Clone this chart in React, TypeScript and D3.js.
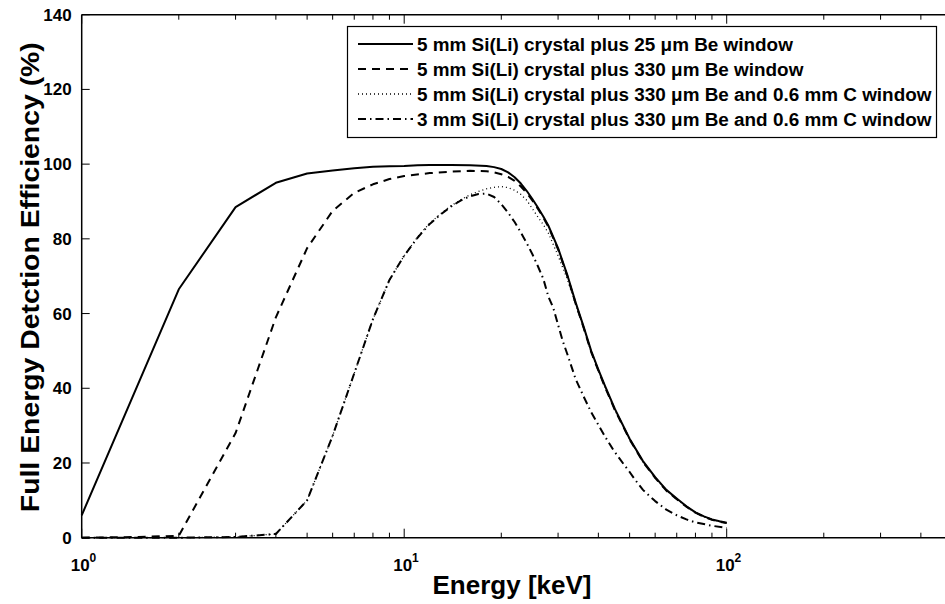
import React, { useEffect, useRef } from "react";
import * as d3 from "d3";

// energy in keV vs efficiency in %
const solidX = [1, 2, 3, 4, 5, 6, 7, 8, 9, 10, 11, 12, 14, 16, 18, 19, 20, 21, 22, 23, 24, 25, 26, 27, 28, 30, 32, 34, 36, 38, 40, 42, 45, 50, 55, 60, 65, 70, 75, 80, 85, 90, 95, 100];
const solidY = [6, 66.5, 88.5, 95, 97.5, 98.3, 98.9, 99.3, 99.4, 99.5, 99.7, 99.8, 99.8, 99.7, 99.5, 99.2, 98.7, 97.8, 96.5, 94.8, 92.8, 90.6, 88.3, 86, 83.5, 77.5, 70.5, 63, 56.5, 50, 45, 40.5, 34.5, 26.5, 20.5, 16.2, 12.8, 10.5, 8.4, 6.8, 5.7, 4.9, 4.4, 4];

const dashX = [1, 1.5, 2, 3, 4, 5, 6, 7, 8, 9, 10, 12, 14, 16, 18, 19, 20, 21, 22, 23, 24, 25, 26, 27, 28, 30, 32, 34, 36, 38, 40, 42, 45, 50, 55, 60, 65, 70, 75, 80, 85, 90, 95, 100];
const dashY = [0, 0.2, 0.5, 28, 59, 77.5, 87.5, 92.3, 94.6, 96, 96.8, 97.6, 98, 98.2, 98.1, 97.8, 97.3, 96.6, 95.5, 94, 92.3, 90.2, 88, 85.7, 83.2, 77.2, 70.2, 62.7, 56.2, 49.7, 44.7, 40.2, 34.2, 26.3, 20.3, 16, 12.6, 10.3, 8.3, 6.7, 5.6, 4.8, 4.3, 3.9];

const dotX = [1, 2, 3, 4, 5, 6, 7, 8, 9, 10, 11, 12, 13, 14, 15, 16, 17, 18, 19, 20, 21, 22, 23, 24, 25, 26, 27, 28, 30, 32, 34, 36, 38, 40, 42, 45, 50, 55, 60, 65, 70, 75, 80, 85, 90, 95, 100];
const dotY = [0, 0, 0.2, 1, 10, 27.3, 44, 58.5, 69, 75.5, 80.5, 84.2, 86.8, 88.9, 90.5, 91.8, 92.7, 93.4, 93.8, 94, 93.7, 93, 91.9, 90.3, 88, 85.8, 83.8, 81.5, 75.5, 69.3, 62.5, 56.2, 49.7, 44.7, 40.2, 34.2, 26.3, 20.3, 16, 12.6, 10.3, 8.3, 6.7, 5.6, 4.8, 4.3, 3.9];

const dashDotX = [1, 2, 3, 4, 5, 6, 7, 8, 9, 10, 11, 12, 13, 14, 15, 16, 17, 18, 19, 20, 21, 22, 23, 24, 25, 26, 27, 28, 29, 30, 31, 32, 34, 36, 38, 40, 42, 44.5, 48, 50, 52, 55, 60, 65, 70, 75, 80, 90, 100];
const dashDotY = [0, 0, 0.2, 1, 10, 27.3, 44, 58.5, 69, 75.5, 80.3, 84, 86.6, 88.7, 90.3, 91.4, 92, 92.1, 91.2, 89.3, 87, 84.5, 81.7, 78.8, 75.8, 72.6, 69.3, 64.5, 61.5, 57, 52.7, 49.3, 42.5, 37.8, 33.6, 30.2, 27, 23.5, 19.6, 17.6, 15.5, 12.8, 9.8, 7.5, 6, 4.9, 4.1, 3.2, 2.6];

const seriesNames = [
  "5 mm Si(Li) crystal plus 25 μm Be window",
  "5 mm Si(Li) crystal plus 330 μm Be window",
  "5 mm Si(Li) crystal plus 330 μm Be and 0.6 mm C window",
  "3 mm Si(Li) crystal plus 330 μm Be and 0.6 mm C window",
];
const dashes = ["none", "8,6", "1,3", "8,4,1.5,4"];
const widths = [2, 2, 1.3, 2];

const yTicks = [0, 20, 40, 60, 80, 100, 120, 140];
const xMajor = [1, 10, 100];

export default function App() {
  const svgRef = useRef<SVGSVGElement>(null);
  const width = 945;
  const height = 604;

  useEffect(() => {
    const svg = d3.select(svgRef.current);
    svg.selectAll("*").remove();

    const left = 81.7;
    const decade = 322.5;
    const x = d3.scaleLog().domain([1, 500]).range([left, left + decade * Math.log10(500)]);
    const y = d3.scaleLinear().domain([0, 140]).range([537.7, 14.7]);
    const font = "Liberation Sans, Arial, sans-serif";

    const series = [
      solidX.map((v, i) => [v, solidY[i]]),
      dashX.map((v, i) => [v, dashY[i]]),
      dotX.map((v, i) => [v, dotY[i]]),
      dashDotX.map((v, i) => [v, dashDotY[i]]),
    ];

    const line = d3
      .line<number[]>()
      .x(d => x(d[0]))
      .y(d => y(d[1]));

    // dotted drawn last so its dots show on top
    const order = [0, 1, 3, 2];
    order.forEach(i => {
      svg.append("path")
        .attr("d", line(series[i] as number[][]))
        .attr("fill", "none")
        .attr("stroke", "black")
        .attr("stroke-width", widths[i])
        .attr("stroke-linejoin", "round")
        .attr("stroke-dasharray", dashes[i]);
    });

    // axes box
    const x0 = x.range()[0];
    const x1 = x.range()[1];
    svg.append("line").attr("x1", x0).attr("x2", x1).attr("y1", y(0)).attr("y2", y(0))
      .attr("stroke", "black").attr("stroke-width", 1.5);
    svg.append("line").attr("x1", x0).attr("x2", x1).attr("y1", y(140)).attr("y2", y(140))
      .attr("stroke", "black").attr("stroke-width", 1.5);
    svg.append("line").attr("x1", x0).attr("x2", x0).attr("y1", y(0)).attr("y2", y(140))
      .attr("stroke", "black").attr("stroke-width", 1.5);

    // y ticks
    yTicks.forEach(t => {
      svg.append("line").attr("x1", x0).attr("x2", x0 + 8).attr("y1", y(t)).attr("y2", y(t))
        .attr("stroke", "black").attr("stroke-width", 1);
      svg.append("text")
        .attr("x", x0 - 10)
        .attr("y", y(t) + 6)
        .attr("text-anchor", "end")
        .attr("font-family", font)
        .attr("font-weight", "bold")
        .attr("font-size", 17)
        .text(t);
    });

    // x ticks, bottom and top
    x.ticks().filter(t => t <= 500).forEach(t => {
      const len = xMajor.includes(t) ? 9 : 5;
      svg.append("line").attr("x1", x(t)).attr("x2", x(t)).attr("y1", y(0)).attr("y2", y(0) - len)
        .attr("stroke", "black").attr("stroke-width", 1);
      svg.append("line").attr("x1", x(t)).attr("x2", x(t)).attr("y1", y(140)).attr("y2", y(140) + len)
        .attr("stroke", "black").attr("stroke-width", 1);
    });

    xMajor.forEach((t, i) => {
      const txt = svg.append("text")
        .attr("x", x(t) - 11)
        .attr("y", 571)
        .attr("font-family", font)
        .attr("font-weight", "bold")
        .attr("font-size", 17)
        .text("10");
      txt.append("tspan").attr("dy", -9).attr("font-size", 12).text(i);
    });

    // axis titles
    svg.append("text")
      .attr("x", 512)
      .attr("y", 594)
      .attr("text-anchor", "middle")
      .attr("font-family", font)
      .attr("font-weight", "bold")
      .attr("font-size", 26)
      .text("Energy [keV]");

    svg.append("text")
      .attr("transform", `translate(39, ${y(70) + 1}) rotate(-90)`)
      .attr("text-anchor", "middle")
      .attr("font-family", font)
      .attr("font-weight", "bold")
      .attr("font-size", 26)
      .attr("textLength", 470)
      .attr("lengthAdjust", "spacingAndGlyphs")
      .text("Full Energy Detction Efficiency (%)");

    // legend
    const lg = svg.append("g");
    lg.append("rect")
      .attr("x", 347.5).attr("y", 26.5).attr("width", 589).attr("height", 111)
      .attr("fill", "white").attr("stroke", "black").attr("stroke-width", 1.2);
    seriesNames.forEach((name, i) => {
      const cy = 44 + i * 25;
      lg.append("line")
        .attr("x1", 358).attr("x2", 413).attr("y1", cy).attr("y2", cy)
        .attr("stroke", "black").attr("stroke-width", widths[i])
        .attr("stroke-dasharray", dashes[i]);
      lg.append("text")
        .attr("x", 417)
        .attr("y", cy + 6.5)
        .attr("font-family", font)
        .attr("font-weight", "bold")
        .attr("font-size", 18.9)
        .text(name);
    });
  }, []);

  return (
    <svg
      ref={svgRef}
      width={width}
      height={height}
      style={{ position: "absolute", left: 0, top: 0, background: "white" }}
    />
  );
}
